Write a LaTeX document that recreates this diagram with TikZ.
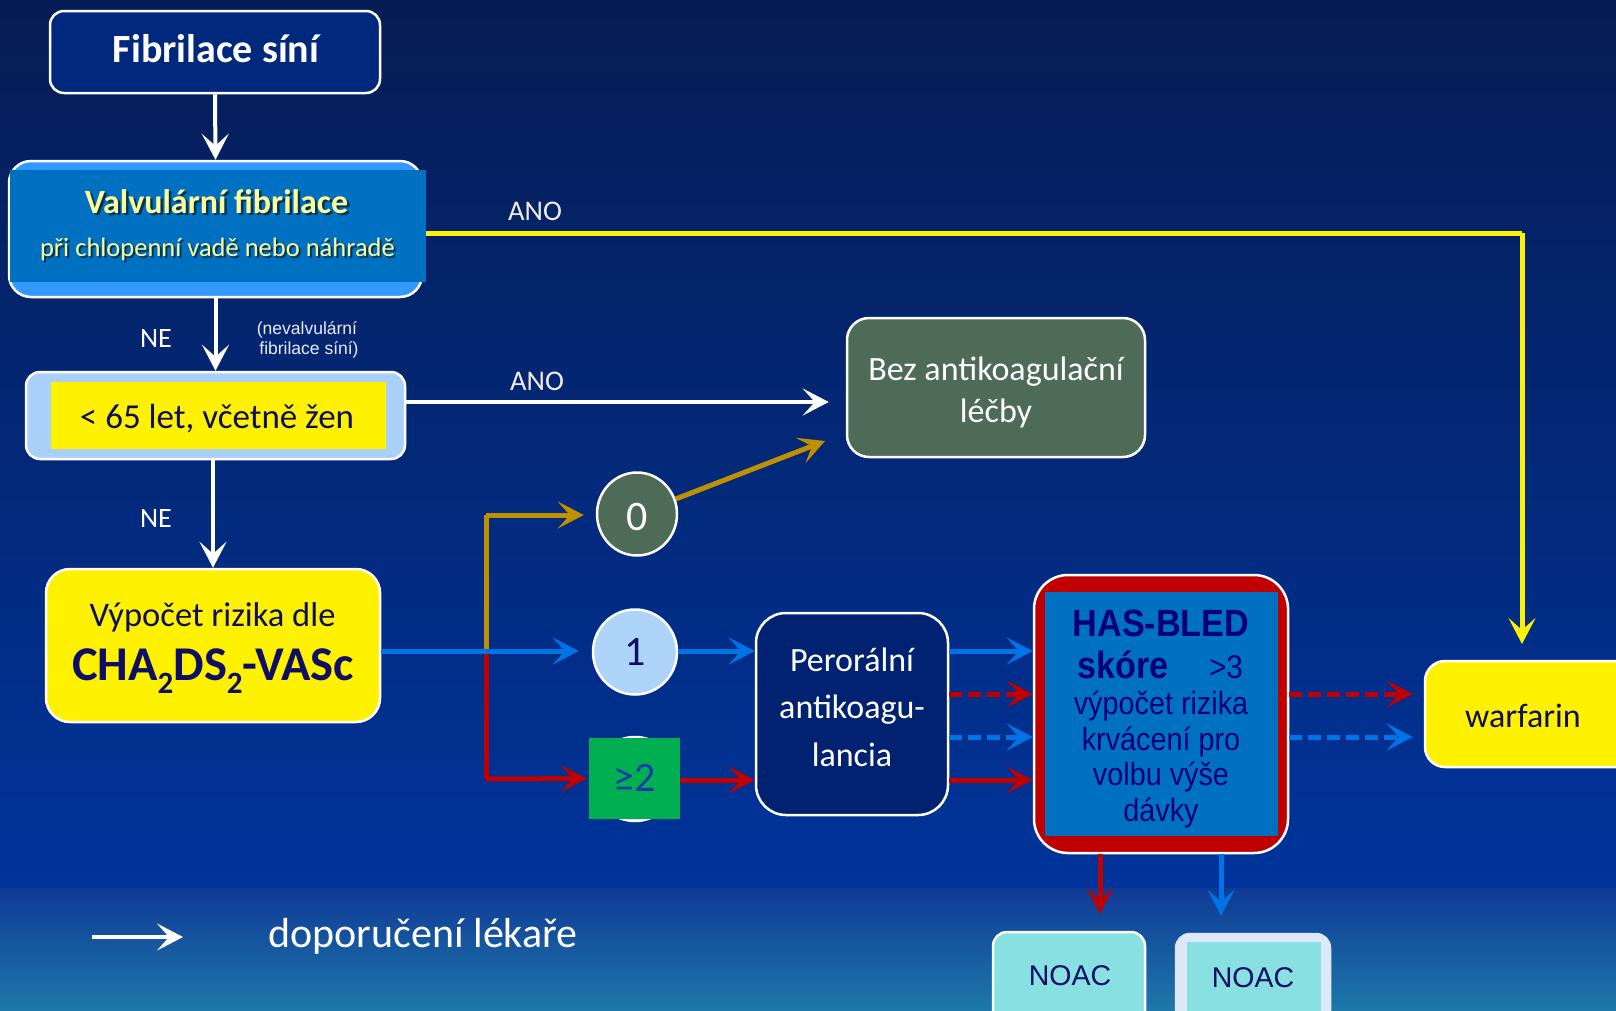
\documentclass[tikz,border=0pt]{standalone}
\usepackage{fontspec}
\setmainfont{Carlito}
\newfontfamily\arialf{Liberation Sans}
\newfontfamily\hasf[FakeStretch=0.9]{Liberation Sans}
\usetikzlibrary{arrows.meta,calc,shapes.geometric}
\definecolor{bgtop}{RGB}{6,28,84}
\definecolor{bgmid}{RGB}{0,52,155}
\definecolor{bgband}{RGB}{15,58,150}
\definecolor{bgbot}{RGB}{30,120,170}
\definecolor{navybox}{RGB}{0,40,125}
\definecolor{pernavy}{RGB}{0,34,112}
\definecolor{lblue}{RGB}{51,153,255}
\definecolor{mblue}{RGB}{0,112,192}
\definecolor{paleblue}{RGB}{168,208,248}
\definecolor{circblue}{RGB}{174,212,250}
\definecolor{ltyellow}{RGB}{255,255,153}
\definecolor{txtnavy}{RGB}{14,14,100}
\definecolor{hasnavy}{RGB}{0,0,120}
\definecolor{greybox}{RGB}{78,107,88}
\definecolor{greenbox}{RGB}{0,176,80}
\definecolor{arrblue}{RGB}{0,115,230}
\definecolor{arrred}{RGB}{192,0,0}
\definecolor{arrgold}{RGB}{191,144,0}
\definecolor{turq}{RGB}{136,224,224}
\definecolor{paleouter}{RGB}{221,232,248}
\definecolor{anotxt}{RGB}{240,236,228}
\definecolor{twotxt}{RGB}{22,60,170}
\tikzset{
  box/.style={draw=white, line width=2.5pt, inner sep=0pt},
  plain/.style={draw=none, inner sep=0pt},
  tip/.style={-{Stealth[length=26pt,width=27pt,inset=12pt]}},
  warr/.style={draw=white, line width=4pt, tip},
  barr/.style={draw=arrblue, line width=5pt, tip},
  rarr/.style={draw=arrred, line width=5pt, tip},
  garr/.style={draw=arrgold, line width=5pt, tip},
  yarr/.style={draw=yellow, line width=5pt, tip},
  dsh/.style={dash pattern=on 13pt off 6pt},
  lbl/.style={inner sep=0pt, anchor=base}
}
\begin{document}
\begin{tikzpicture}[x=1pt,y=-1pt]
% background
\useasboundingbox (0,0) rectangle (1616,1010);
\shade[top color=bgtop, bottom color=bgmid] (0,0) rectangle (1616,888);
\shade[top color=bgband, bottom color=bgbot] (0,888) rectangle (1616,1010);

% ---- nodes ----
\node[box, fill=navybox, rounded corners=14pt, minimum width=330pt, minimum height=82pt] (fib) at (215,52) {};
\node[lbl, text=white, font=\bfseries\fontsize{40}{44}\selectfont] (fibt) at (216,62) {Fibrilace síní};

\node[box, fill=lblue, rounded corners=22pt, minimum width=413pt, minimum height=136pt] (valv) at (215.5,229) {};
\node[plain, fill=mblue, minimum width=416pt, minimum height=112pt] (valvin) at (218,226) {};
\node[lbl, text=black, opacity=0.55, font=\bfseries\fontsize{34}{40}\selectfont] (valvsh) at (219,215.5) {Valvulární fibrilace};
\node[lbl, text=ltyellow, font=\bfseries\fontsize{34}{40}\selectfont] (valvt) at (216.5,213) {Valvulární fibrilace};
\node[lbl, text=black, opacity=0.55, font=\fontsize{26.5}{30}\selectfont] (valvsh2) at (219.5,258.5) {při chlopenní vadě nebo náhradě};
\node[lbl, text=ltyellow, font=\fontsize{26.5}{30}\selectfont] (valvt2) at (217.5,256) {při chlopenní vadě nebo náhradě};

\node[box, fill=paleblue, rounded corners=14pt, minimum width=379pt, minimum height=87pt] (lt) at (215.5,415.5) {};
\node[plain, fill=yellow, minimum width=335pt, minimum height=67pt] (ltin) at (218.5,415.5) {};
\node[lbl, text=txtnavy, font=\fontsize{35}{40}\selectfont] (ltt) at (217,428) {< 65 let, včetně žen};

\node[box, fill=yellow, rounded corners=24pt, minimum width=334pt, minimum height=153pt] (cha) at (213,645.5) {};
\node[lbl, text=txtnavy, font=\fontsize{34.5}{40}\selectfont] (chat1) at (212.5,626) {Výpočet rizika dle};
\node[lbl, text=txtnavy, font=\bfseries\fontsize{48.5}{52}\selectfont] (chat2) at (213,680) {CHA\raisebox{-0.28em}{\fontsize{31}{31}\selectfont 2}DS\raisebox{-0.28em}{\fontsize{31}{31}\selectfont 2}-VASc};

\node[box, fill=greybox, rounded corners=22pt, minimum width=298pt, minimum height=139pt] (bez) at (996,387.5) {};
\node[lbl, text=white, font=\fontsize{34}{40}\selectfont] (bezt1) at (996,380) {Bez antikoagulační};
\node[lbl, text=white, font=\fontsize{34}{40}\selectfont] (bezt2) at (996,422) {léčby};

\node[box, fill=greybox, ellipse, minimum width=80pt, minimum height=83pt] (c0) at (637,514) {};
\node[lbl, text=white, font=\fontsize{42}{44}\selectfont] (c0t) at (637,530) {0};
\node[box, fill=circblue, ellipse, minimum width=84pt, minimum height=85pt] (c1) at (635,652) {};
\node[lbl, text=txtnavy, font=\fontsize{42}{44}\selectfont] (c1t) at (635,665) {1};
\node[box, fill=circblue, circle, minimum size=84pt] (c2) at (635,779) {};
\node[plain, fill=greenbox, minimum width=91pt, minimum height=81pt] (sq2) at (634.5,778.5) {};
\node[lbl, text=twotxt, font=\fontsize{42}{44}\selectfont] (sq2t) at (634.5,791) {≥2};

\node[box, fill=pernavy, rounded corners=30pt, minimum width=192pt, minimum height=202pt] (per) at (852,714) {};
\node[lbl, text=white, font=\fontsize{34}{40}\selectfont] (pert1) at (852,671) {Perorální};
\node[lbl, text=white, font=\fontsize{34}{40}\selectfont] (pert2) at (852,718) {antikoagu-};
\node[lbl, text=white, font=\fontsize{34}{40}\selectfont] (pert3) at (852,766) {lancia};

\node[box, fill=arrred, rounded corners=34pt, minimum width=254pt, minimum height=278pt] (has) at (1161,714) {};
\node[plain, fill=mblue, minimum width=233pt, minimum height=244pt] (hasin) at (1161.5,714) {};
\node[lbl, text=hasnavy, font=\hasf\bfseries\fontsize{38}{40}\selectfont] (hast1) at (1161,636) {HAS-BLED};
\node[lbl, text=hasnavy, font=\hasf\bfseries\fontsize{38}{40}\selectfont] (hast2) at (1123,678) {skóre};
\node[lbl, text=hasnavy, font=\hasf\fontsize{33}{40}\selectfont] (hast3) at (1226,678) {>3};
\node[lbl, text=hasnavy, font=\hasf\fontsize{32}{40}\selectfont] (hast4) at (1161,714) {výpočet rizika};
\node[lbl, text=hasnavy, font=\hasf\fontsize{32}{40}\selectfont] (hast5) at (1161,750) {krvácení pro};
\node[lbl, text=hasnavy, font=\hasf\fontsize{32}{40}\selectfont] (hast6) at (1161,785) {volbu výše};
\node[lbl, text=hasnavy, font=\hasf\fontsize{32}{40}\selectfont] (hast7) at (1161,821) {dávky};

\node[box, fill=yellow, rounded corners=20pt, minimum width=225pt, minimum height=106pt] (warf) at (1537.5,714) {};
\node[lbl, text=txtnavy, font=\fontsize{34}{40}\selectfont] (warft) at (1523,727) {warfarin};

\node[box, fill=turq, rounded corners=14pt, minimum width=152pt, minimum height=98pt] (noac1) at (1069,981) {};
\node[lbl, text=txtnavy, font=\arialf\fontsize{28.5}{32}\selectfont] (noac1t) at (1070,985) {NOAC};
\node[box, draw=paleouter, fill=paleouter, rounded corners=14pt, minimum width=154pt, minimum height=98pt] (noac2) at (1253,983) {};
\node[plain, fill=turq, minimum width=134pt, minimum height=80pt] (noac2in) at (1254,982) {};
\node[lbl, text=txtnavy, font=\arialf\fontsize{28.5}{32}\selectfont] (noac2t) at (1253,987) {NOAC};

% labels
\node[lbl, text=anotxt, font=\fontsize{28.5}{32}\selectfont] (ano1) at (535,220) {ANO};
\node[lbl, text=anotxt, font=\fontsize{28.5}{32}\selectfont] (ano2) at (537,390) {ANO};
\node[lbl, text=white, font=\fontsize{28}{32}\selectfont] (ne1) at (156,347) {NE};
\node[lbl, text=white, font=\fontsize{28}{32}\selectfont] (ne2) at (156,527) {NE};
\node[lbl, text=white!92!blue, font=\arialf\fontsize{17.5}{20}\selectfont] (nv1) at (307,334) {(nevalvulární};
\node[lbl, text=white!92!blue, font=\arialf\fontsize{17.5}{20}\selectfont] (nv2) at (309,354) {fibrilace síní)};

% coordinates
\coordinate (yY) at (0,233);
\coordinate (yAno) at (0,402);
\coordinate (yA) at (0,651);
\coordinate (yB) at (0,694);
\coordinate (yC) at (0,737);
\coordinate (yD) at (0,780);
\coordinate (xR) at (1100,0);
\coordinate (xB) at (1221,0);
\coordinate (yellowcorner) at (1522,233);
\coordinate (yellowend) at (1522,644);
\coordinate (split) at (486,649);
\coordinate (goldtop) at (486,515);
\coordinate (redbot) at (486,779);
\coordinate (bezpt) at (825,441);
\coordinate (lgA) at (92,937);
\coordinate (lgB) at (183,937);

% ---- connectors ----
\draw[warr] (fib.south) -- (valv.north);
\draw[warr] (valv.south) -- (lt.north);
\draw[warr] (cha.north |- lt.south) -- (cha.north);
\draw[warr, shorten >=17pt] (lt.east |- yAno) -- (bez.west |- yAno);
\draw[draw=yellow, line width=5pt] (valvin.east |- yY) -- (yellowcorner);
\draw[yarr] (yellowcorner) -- (yellowend);

\draw[draw=arrgold, line width=5pt] (split) -- (goldtop);
\draw[garr, shorten >=12pt] (goldtop) -- (c0.west |- goldtop);
\draw[draw=arrred, line width=5pt] (486,652) -- (redbot);
\draw[rarr, shorten >=2pt] (redbot) -- (sq2.west);
\draw[barr, shorten >=13pt] (cha.east |- yA) -- (c1.west |- yA);
\draw[garr] (c0) -- (bezpt);

\draw[barr] (c1.east |- yA) -- (per.west |- yA);
\draw[rarr] (sq2.east |- yD) -- (per.west |- yD);

\draw[barr] (per.east |- yA) -- (has.west |- yA);
\draw[rarr, dsh] (per.east |- yB) -- (has.west |- yB);
\draw[barr, dsh] (per.east |- yC) -- (has.west |- yC);
\draw[rarr] (per.east |- yD) -- (has.west |- yD);

\draw[rarr, dsh, shorten >=11pt] (has.east |- yB) -- (warf.west |- yB);
\draw[barr, dsh, shorten >=11pt] (has.east |- yC) -- (warf.west |- yC);

\draw[rarr, shorten >=17pt] (has.south -| xR) -- (noac1.north -| xR);
\draw[barr, shorten >=17pt] (has.south -| xB) -- (noac2.north -| xB);

% legend
\draw[draw=white, line width=3.5pt, tip] (lgA) -- (lgB);
\node[lbl, text=white, font=\fontsize{42}{46}\selectfont] (legt) at (423,947) {doporučení lékaře};
\end{tikzpicture}
\end{document}
